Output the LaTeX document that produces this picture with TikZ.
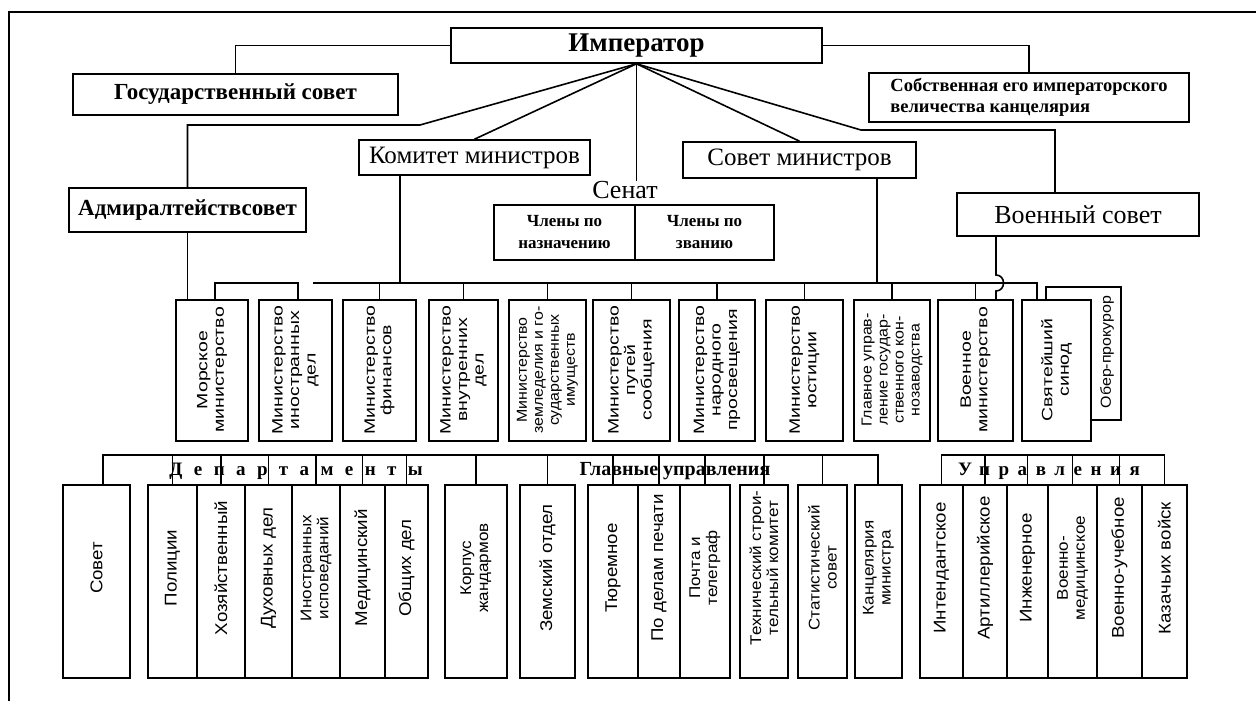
\documentclass[tikz,border=0pt]{standalone}
\usepackage{fontspec}
\setmainfont{Liberation Serif}
\newfontfamily\sansx[FakeStretch=1.3]{Liberation Sans}
\newfontfamily\sansy[FakeStretch=1.1]{Liberation Sans}
\newfontfamily\spacedA[LetterSpace=60]{Liberation Serif}
\newfontfamily\spacedB[LetterSpace=45]{Liberation Serif}
\usetikzlibrary{calc}
\tikzset{
 box/.style={draw, line width=1.6pt, inner sep=0pt, fill=white},
 conn/.style={line width=1.6pt},
 mtext/.style={rotate=90, align=center, inner sep=0pt, font=\sansx\fontsize{15}{16.5}\selectfont},
 mtextn/.style={rotate=90, align=center, inner sep=0pt, font=\sansy\fontsize{14.5}{16}\selectfont},
 btext/.style={rotate=90, align=center, inner sep=0pt, font=\sansy\fontsize{17}{19}\selectfont},
 b2text/.style={rotate=90, align=center, inner sep=0pt, font=\sansy\fontsize{15.5}{17}\selectfont},
}
\newcommand\Bx[7]{\node[box,#1,minimum width={#5-#3},minimum height={#6-#4}] (#2) at ({(#3+#5)/2},{(#4+#6)/2}) {#7};}
\newcommand\Rx[7]{\node[box,minimum width={#5-#3},minimum height={#6-#4}] (#2) at ({(#3+#5)/2},{(#4+#6)/2}) {};}
\newcommand\Tx[4]{\node[#1] (#2t) at (#2.center |- 0,#3) {#4};}
\begin{document}
\begin{tikzpicture}[x=1pt,y=-1pt]
\fill[white] (0,0) rectangle (1256,701);
\useasboundingbox (0,0) rectangle (1256,701);
\draw[line width=1.2pt] (9,701) -- (9,12) -- (1256,12);
% top level
\Bx{font=\bfseries\fontsize{27}{28}\selectfont}{imp}{451}{28}{822}{63}{Император}
\Bx{font=\bfseries\fontsize{23}{24}\selectfont}{gos}{73}{74}{398}{115}{Государственный совет}
\Bx{font=\bfseries\fontsize{18.5}{21}\selectfont, align=left}{sob}{869}{73}{1189}{122}{Собственная его императорского\\величества канцелярия}
\Bx{font=\fontsize{25}{26}\selectfont}{kom}{359}{140}{590}{175}{Комитет министров}
\Bx{font=\fontsize{25}{26}\selectfont}{sov}{683}{142}{916}{178}{Совет министров}
\Bx{font=\bfseries\fontsize{23}{24}\selectfont}{adm}{69}{188}{306}{232}{Адмиралтействсовет}
\Bx{font=\fontsize{26}{27}\selectfont}{voen}{957}{193}{1199}{236}{Военный совет}
\node[font=\fontsize{26}{27}\selectfont, inner sep=0pt] (sen) at (625,190) {Сенат};
\Bx{font=\bfseries\fontsize{17}{22}\selectfont, align=center}{chn}{494}{205}{635}{260}{Члены по\\назначению}
\Bx{font=\bfseries\fontsize{17}{22}\selectfont, align=center}{chz}{635}{205}{774}{260}{Члены по\\званию}
% top connectors
\draw[conn] (imp.west) -| (gos.north);
\draw[conn] (imp.east) -| (sob.north);
\coordinate (fa) at (420,125);
\draw[conn] (imp.south) -- (fa) -| (adm.north);
\draw[conn] (imp.south) -- (kom.north);
\draw[conn] (imp.south) -- (sov.north);
\coordinate (fd) at (861,130);
\coordinate (vd) at (1055,130);
\draw[conn] (imp.south) -- (fd) -- (vd) -- (vd |- voen.north);
\draw[conn] (imp.south) -- (imp.south |- sen.north);
% ministries
\Rx{}{ober}{1046}{287}{1121}{420}{}
\node[mtextn] (obert) at (1107,352) {Обер-прокурор};
\Rx{}{mor}{176}{300}{248}{441}{}
\Rx{}{ino}{259}{300}{332}{441}{}
\Rx{}{fin}{343}{300}{416}{441}{}
\Rx{}{vnu}{429}{300}{498}{441}{}
\Rx{}{zem}{509}{300}{586}{441}{}
\Rx{}{put}{593}{300}{670}{441}{}
\Rx{}{nar}{679}{300}{755}{441}{}
\Rx{}{yus}{766}{300}{843}{441}{}
\Rx{}{glav}{854}{300}{930}{441}{}
\Rx{}{vmin}{938}{300}{1013}{441}{}
\Rx{}{sin}{1022}{300}{1091}{441}{}
\Tx{mtext}{mor}{370}{Морское\\министерство}
\Tx{mtext}{ino}{370}{Министерство\\иностранных\\дел}
\Tx{mtext}{fin}{370}{Министерство\\финансов}
\Tx{mtext}{vnu}{370}{Министерство\\внутренних\\дел}
\Tx{mtextn}{zem}{370}{Министерство\\земледелия и го-\\сударственных\\имуществ}
\Tx{mtext}{put}{370}{Министерство\\путей\\сообщения}
\Tx{mtext}{nar}{370}{Министерство\\народного\\просвещения}
\Tx{mtext}{yus}{370}{Министерство\\юстиции}
\Tx{mtextn}{glav}{370}{Главное управ-\\ление государ-\\ственного кон-\\нозаводства}
\Tx{mtext}{vmin}{370}{Военное\\министерство}
\Tx{mtext}{sin}{370}{Святейший\\синод}
% ministries connectors
\coordinate (bus) at (0,283);
\draw[conn] (adm.south) -- (adm.south |- mor.north);
\coordinate (kb) at (400,283);
\draw[conn] (kom.south -| kb) -- (kb);
\coordinate (sb) at (877,283);
\draw[conn] (sov.south -| sb) -- (sb);
\coordinate (bs) at (313,283);
\coordinate (be) at (1037,283);
\draw[conn] (bs) -- (be) -- (be |- sin.north);
\coordinate (b1) at (215,283);
\coordinate (b2) at (298,283);
\draw[conn] (mor.north -| b1) -- (b1) -- (b2) -- (ino.north -| b2);
\foreach \n in {fin,vnu,zem,put,nar,yus,glav,vmin}
  \draw[conn] (\n.north) -- (\n.north |- bus);
\coordinate (vw) at (996,283);
\draw[conn] (voen.south -| vw) -- ($(vw)+(0,-8)$) .. controls ($(vw)+(10,-8)$) and ($(vw)+(10,8)$) .. ($(vw)+(0,8)$) -- (vmin.north -| vw);
% bottom boxes
\Rx{}{sovet}{63}{485}{130}{678}{}
\Rx{}{pol}{148}{485}{197}{678}{}
\Rx{}{hoz}{197}{485}{245}{678}{}
\Rx{}{duh}{245}{485}{292}{678}{}
\Rx{}{inos}{292}{485}{340}{678}{}
\Rx{}{med}{340}{485}{385}{678}{}
\Rx{}{obsh}{385}{485}{428}{678}{}
\Rx{}{korp}{445}{485}{507}{678}{}
\Rx{}{zems}{520}{485}{575}{678}{}
\Rx{}{tyur}{588}{485}{638}{678}{}
\Rx{}{pech}{638}{485}{680}{678}{}
\Rx{}{pocht}{680}{485}{730}{678}{}
\Rx{}{tehn}{740}{485}{788}{678}{}
\Rx{}{stat}{798}{485}{847}{678}{}
\Rx{}{kanc}{855}{485}{902}{678}{}
\Rx{}{int}{920}{485}{963}{678}{}
\Rx{}{art}{963}{485}{1007}{678}{}
\Rx{}{inzh}{1007}{485}{1048}{678}{}
\Rx{}{vmed}{1048}{485}{1097}{678}{}
\Rx{}{vuch}{1097}{485}{1142}{678}{}
\Rx{}{kaz}{1142}{485}{1187}{678}{}
\Tx{btext}{sovet}{568}{Совет}
\Tx{btext}{pol}{568}{Полиции}
\Tx{btext}{hoz}{568}{Хозяйственный}
\Tx{btext}{duh}{568}{Духовных дел}
\Tx{b2text}{inos}{568}{Иностранных\\исповеданий}
\Tx{btext}{med}{568}{Медицинский}
\Tx{btext}{obsh}{568}{Общих дел}
\Tx{b2text}{korp}{568}{Корпус\\жандармов}
\Tx{btext}{zems}{568}{Земский отдел}
\Tx{btext}{tyur}{568}{Тюремное}
\Tx{btext}{pech}{568}{По делам печати}
\Tx{b2text}{pocht}{568}{Почта и\\телеграф}
\Tx{b2text}{tehn}{568}{Технический строи-\\тельный комитет}
\Tx{b2text}{stat}{568}{Статистический\\совет}
\Tx{b2text}{kanc}{568}{Канцелярия\\министра}
\Tx{btext}{int}{568}{Интендантское}
\Tx{btext}{art}{568}{Артиллерийское}
\Tx{btext}{inzh}{568}{Инженерное}
\Tx{b2text}{vmed}{568}{Военно-\\медицинское}
\Tx{btext}{vuch}{568}{Военно-учебное}
\Tx{btext}{kaz}{568}{Казачьих войск}
% bottom connectors
\coordinate (bb) at (0,455);
\coordinate (bl) at (103,455);
\coordinate (br) at (878,455);
\draw[conn] (sovet.north -| bl) -- (bl) -- (br) -- (kanc.north -| br);
\foreach \n in {pol,hoz,duh,inos,med,obsh,korp,zems,tyur,pech,pocht,tehn,stat}
  \draw[conn] (\n.north) -- (\n.north |- bb);
\draw[conn] (int.north) -- (int.north |- bb) -- (kaz.north |- bb) -- (kaz.north);
\foreach \n in {art,inzh,vmed,vuch}
  \draw[conn] (\n.north) -- (\n.north |- bb);
\node[font=\spacedA\bfseries\fontsize{19}{20}\selectfont, inner sep=0pt] (dep) at (296,471) {Департаменты};
\node[font=\bfseries\fontsize{20}{21}\selectfont, inner sep=0pt] (glu) at (675,471) {Главные управления};
\node[font=\spacedB\bfseries\fontsize{19}{20}\selectfont, inner sep=0pt] (upr) at (1049,471) {Управления};
\end{tikzpicture}
\end{document}
